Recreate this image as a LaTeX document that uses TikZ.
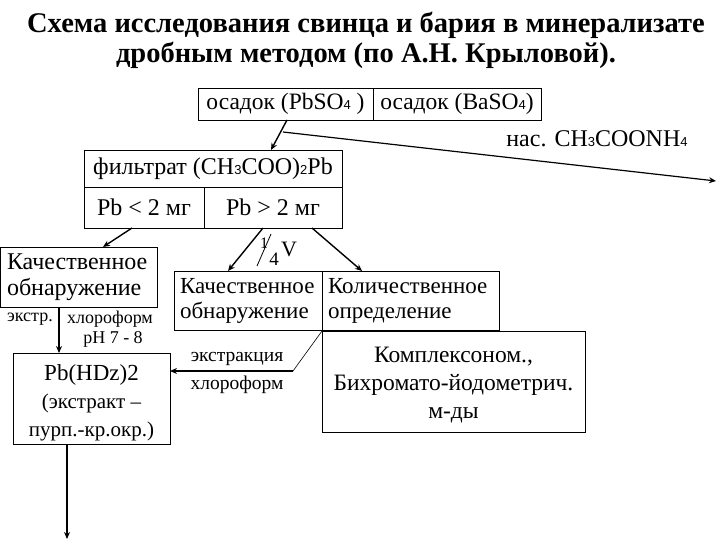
\documentclass[tikz,border=0pt]{standalone}
\usepackage{fontspec}
\setmainfont{Liberation Serif}
\newfontfamily\arl{Liberation Sans}
\usetikzlibrary{arrows.meta}
\newcommand{\fs}[1]{\fontsize{#1}{#1}\selectfont}
\newcommand{\lo}[1]{{\arl\fontsize{13}{13}\selectfont #1}}
\tikzset{
  cell/.style={draw, line width=0.9pt, inner sep=0pt, align=center},
  arr/.style={line width=1.4pt, -{Stealth[length=7pt,width=6pt]}},
  thin/.style={line width=0.6pt},
  lbl/.style={inner sep=0pt, align=center},
}
\begin{document}
\begin{tikzpicture}[x=1pt,y=-1pt]
\useasboundingbox (0,0) rectangle (720,540);
% title
\node[lbl, font=\fs{28.5}\bfseries] (t1) at (366,25) {Схема исследования свинца и бария в минерализате};
\node[lbl, font=\fs{28.5}\bfseries] (t2) at (366,55) {дробным методом (по А.Н. Крыловой).};
% top boxes
\node[cell, minimum width=175pt, minimum height=32pt, font=\fs{23.5}] (pbso) at (285.5,104) {осадок (PbSO\lo{4} )};
\node[cell, minimum width=168pt, minimum height=32pt, font=\fs{23.5}] (baso) at (457,104) {осадок (BaSO\lo{4})};
% filtrate
\node[cell, minimum width=258pt, minimum height=37pt, font=\fs{24}] (fil) at (213,168.5) {фильтрат (CH\lo{3}COO)\lo{2}Pb};
\node[cell, minimum width=120pt, minimum height=41pt, font=\fs{24}] (lt) at (144,207.5) {Pb < 2 мг};
\node[cell, minimum width=138pt, minimum height=41pt, font=\fs{24}] (gt) at (273,207.5) {Pb > 2 мг};
% left qualitative
\node[cell, minimum width=157pt, minimum height=60pt, text width=143pt, align=left, font=\fs{24}] (kl) at (78.5,277) {Качественное\\[2pt]обнаружение};
% middle
\node[cell, minimum width=148pt, minimum height=59pt, text width=136pt, align=left, font=\fs{23}] (km) at (248,300.5) {Качественное\\[2pt]обнаружение};
\node[cell, minimum width=177pt, minimum height=59pt, text width=165pt, align=left, font=\fs{23}] (kol) at (410.5,300.5) {Количественное\\[2pt]определение};
\node[cell, minimum width=263pt, minimum height=101pt] (big) at (453.5,381.5) {\null};
\node[lbl, font=\fs{23.5}] (bigt) at (453.5,385) {Комплексоном.,\\[5pt]Бихромато-йодометрич.\\[4pt]м-ды};
\node[cell, minimum width=157pt, minimum height=91pt] (hdz) at (91.5,398.5) {\null};
\node[lbl, font=\fs{21}] (hdzt) at (91.5,403) {{\fs{23}Pb(HDz)2}\\[7pt](экстракт –\\[7pt]пурп.-кр.окр.)};
% labels
\node[lbl, font=\fs{24}] (nas) at (597,139) {нас. CH\lo{3}COONH\lo{4}};
\node[lbl, font=\fs{18}] (ex1) at (30,319) {экстр.};
\node[lbl, font=\fs{18}] (ch1) at (110,319) {хлороформ};
\node[lbl, font=\fs{18}] (ph) at (113,339) {рН 7 - 8};
\node[lbl, font=\fs{19.5}] (ex2) at (237,359) {экстракция};
\node[lbl, font=\fs{19.5}] (ch2) at (237,385) {хлороформ};
\node[lbl, font=\fs{16}] (f1) at (264,243) {1};
\node[lbl, font=\fs{19}] (f4) at (274,259) {4};
\node[lbl, font=\fs{22}] (fv) at (289,249) {V};
\coordinate (s1) at (257,266);
\coordinate (s2) at (271,234);
\draw[thin, line width=0.8pt] (s1) -- (s2);
% connectors
\coordinate (a1) at (287,120);
\coordinate (a1e) at (271,150);
\coordinate (b1) at (283,132);
\coordinate (b1e) at (716,181);
\draw[arr] (a1) -- (a1e);
\draw[arr, line width=1.2pt] (b1) -- (b1e);
\coordinate (c1) at (132,228);
\coordinate (c1e) at (103,247);
\draw[arr] (c1) -- (c1e);
\coordinate (d1) at (263,228);
\coordinate (d1e) at (228,271);
\draw[arr] (d1) -- (d1e);
\coordinate (e1) at (312,228);
\coordinate (e1e) at (362,271);
\draw[arr] (e1) -- (e1e);
\coordinate (g1) at (59,307);
\coordinate (g1e) at (59,353);
\draw[arr] (g1) -- (g1e);
\coordinate (h1) at (322,331);
\coordinate (h2) at (293,371);
\coordinate (h2e) at (170,371);
\draw[thin] (h1) -- (h2);
\draw[arr] (h2) -- (h2e);
\coordinate (i1) at (67,444);
\coordinate (i1e) at (67,539);
\draw[arr] (i1) -- (i1e);
\end{tikzpicture}
\end{document}
